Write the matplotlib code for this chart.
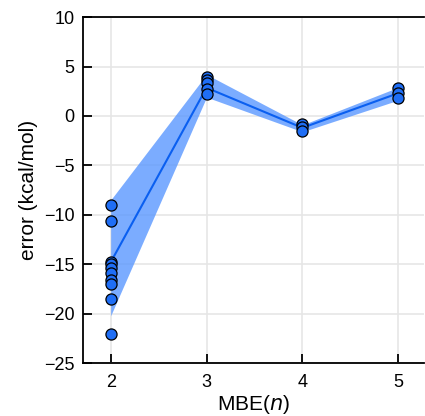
import matplotlib
matplotlib.use("Agg")
import matplotlib.pyplot as plt

plt.rcParams["font.family"] = ["Liberation Sans", "DejaVu Sans"]

# per-point errors
n_values = [2, 3, 4, 5]
errors = {
    2: [-9.04, -10.67, -14.75, -15.0, -15.4, -15.9, -16.6, -17.0, -18.5, -22.1],
    3: [3.96, 3.6, 3.35, 2.74, 2.24],
    4: [-0.85, -1.1, -1.5],
    5: [2.85, 2.3, 1.8],
}
mean_line = [-14.8, 2.85, -1.2, 2.3]
band_lo = [-20.2, 1.9, -1.6, 1.6]
band_hi = [-8.5, 4.2, -0.9, 2.9]

blue = "#1f6ef5"

fig = plt.figure(figsize=(4.25, 4.16), dpi=100)
ax = fig.add_axes([0.195, 0.127, 0.803, 0.832])

ax.fill_between(n_values, band_lo, band_hi, color="#5a98ff", alpha=0.8, lw=0, zorder=1)
ax.plot(n_values, mean_line, color="#0a5ff0", lw=1.5, zorder=2)
for n in n_values:
    ax.plot([n] * len(errors[n]), errors[n], "o", ms=8, mfc=blue, mec="black", mew=0.9, zorder=3)

ax.set_xlim(1.71, 5.27)
ax.set_ylim(-25, 10)
ax.set_xticks(n_values)
ax.set_yticks([-25, -20, -15, -10, -5, 0, 5, 10])
ax.set_yticklabels(["\u221225", "\u221220", "\u221215", "\u221210", "\u22125", "0", "5", "10"])
ax.grid(True, color="#e6e6e6", lw=1.2)
ax.set_axisbelow(True)
ax.spines["right"].set_visible(False)
for s in ["left", "bottom", "top"]:
    ax.spines[s].set_linewidth(1.3)
ax.tick_params(direction="in", length=6.5, width=1.3, labelsize=13)
ax.tick_params(axis="x", pad=8)
ax.tick_params(axis="y", pad=6)
ax.set_xlabel("MBE($\\it{n}$)", fontsize=15, labelpad=1)
ax.set_ylabel("error (kcal/mol)", fontsize=15, labelpad=4)

fig.savefig("out.png", dpi=100)
